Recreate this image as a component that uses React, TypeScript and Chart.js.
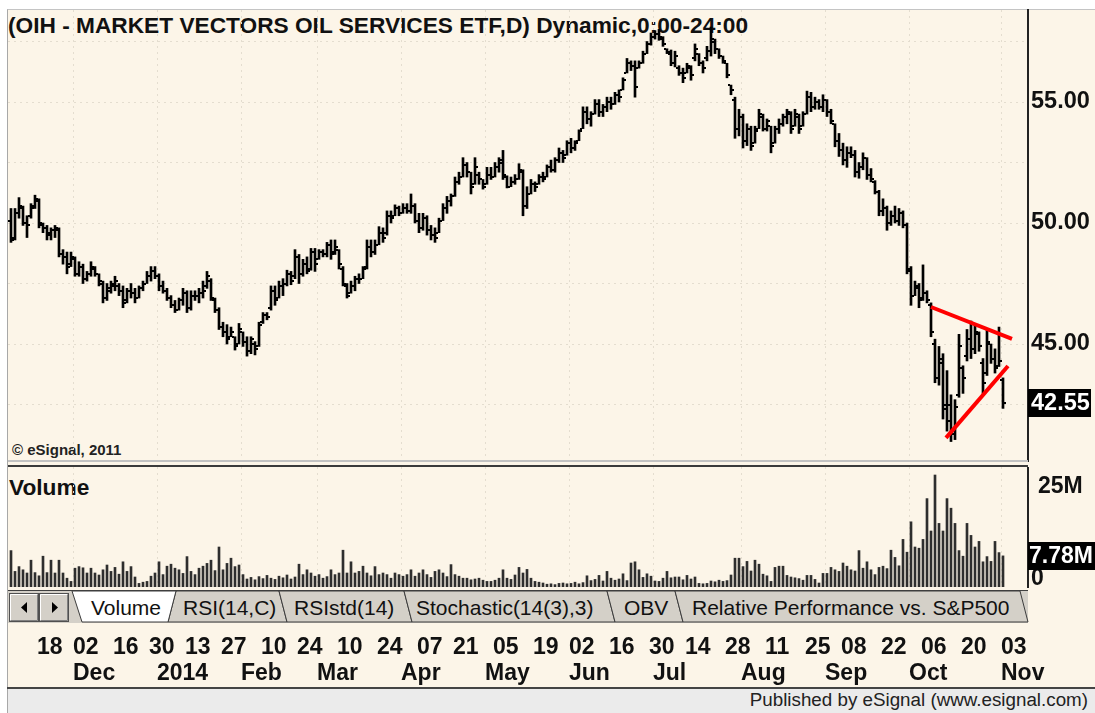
import React, { useEffect, useRef } from 'react';
import { Chart, registerables } from 'chart.js';

Chart.register(...registerables);

const FONT = "'Liberation Sans', Arial, Helvetica, sans-serif";
const CREAM = '#FCF5E8';
const GRID = '#e4ddcf';

// Daily bars, index 0 = 07 Nov 2013 ... index 248 = 03 Nov 2014
const opens = [
  50.1, 49.4, 50.4, 50.6, 50.0, 50.3, 50.7, 50.9, 49.9, 49.8,
  49.5, 49.7, 49.7, 48.7, 48.6, 48.3, 48.5, 47.9, 48.2, 47.7,
  47.9, 48.1, 47.9, 47.5, 46.9, 47.2, 47.4, 47.4, 47.2, 46.8,
  47.2, 47.1, 46.9, 47.3, 47.5, 47.8, 48.0, 47.8, 47.4, 47.2,
  46.9, 46.6, 46.4, 46.8, 47.1, 46.5, 47.0, 47.0, 47.1, 47.4,
  47.6, 46.8, 46.4, 45.7, 45.5, 45.3, 45.3, 45.0, 45.5, 45.1,
  44.7, 45.0, 44.9, 45.9, 46.2, 46.5, 47.2, 46.9, 47.4, 47.5,
  47.9, 47.8, 48.6, 47.9, 48.3, 48.1, 48.8, 48.5, 48.8, 48.7,
  49.1, 48.8, 48.9, 48.1, 47.4, 47.1, 47.4, 47.7, 47.7, 48.2,
  49.0, 48.8, 49.1, 49.6, 49.6, 50.3, 50.3, 50.6, 50.4, 50.6,
  50.5, 50.7, 50.1, 49.8, 50.2, 49.7, 49.5, 49.6, 50.1, 50.6,
  50.9, 51.1, 51.7, 51.9, 52.4, 52.1, 51.6, 52.0, 51.8, 51.6,
  52.0, 51.9, 52.3, 52.6, 51.9, 51.5, 51.7, 51.8, 52.1, 50.7,
  51.2, 51.6, 51.6, 51.9, 51.9, 52.3, 52.2, 52.6, 52.9, 52.8,
  53.3, 53.1, 53.4, 53.9, 54.6, 54.3, 54.5, 54.9, 54.6, 54.8,
  55.0, 54.9, 55.3, 55.5, 56.2, 56.6, 56.5, 56.4, 56.6, 57.0,
  57.4, 57.7, 57.8, 57.6, 57.2, 57.0, 56.6, 56.4, 56.2, 56.2,
  56.4, 56.8, 57.0, 56.6, 56.8, 57.1, 57.5, 57.2, 56.9, 56.6,
  55.7, 55.1, 53.9, 54.4, 53.4, 53.9, 53.3, 53.9, 54.4, 53.9,
  54.0, 53.3, 53.9, 54.1, 54.4, 54.5, 54.0, 54.4, 54.0, 54.5,
  55.2, 54.8, 55.0, 54.8, 55.1, 54.6, 54.1, 53.4, 53.0, 52.6,
  52.9, 52.8, 52.1, 52.3, 52.7, 52.0, 51.7, 51.3, 50.5, 50.6,
  50.0, 50.3, 50.1, 50.4, 49.9, 48.0, 47.0, 47.3, 46.9, 47.1,
  46.6, 45.0, 43.6, 44.2, 42.5, 42.5, 41.3, 42.9, 44.0, 44.5,
  45.2, 44.8, 45.4, 44.2, 43.8, 45.0, 44.4, 44.1, 43.5,
];

const highs = [
  50.6, 50.6, 51.05, 50.7, 50.3, 50.8, 51.15, 51.0, 50.0, 49.9,
  49.8, 49.9, 49.8, 48.9, 48.8, 48.8, 48.6, 48.4, 48.3, 48.0,
  48.4, 48.2, 47.9, 47.6, 47.5, 47.6, 47.8, 47.5, 47.4, 47.3,
  47.5, 47.3, 47.4, 47.6, 48.0, 48.2, 48.2, 47.9, 47.6, 47.3,
  47.0, 46.8, 46.9, 47.3, 47.2, 47.2, 47.2, 47.3, 47.6, 48.0,
  47.7, 46.9, 46.5, 45.9, 45.8, 45.7, 45.3, 45.85, 45.5, 45.3,
  45.3, 45.1, 45.9, 46.3, 46.3, 47.4, 47.4, 47.6, 47.7, 48.05,
  48.0, 48.9, 48.7, 48.5, 48.6, 48.95, 48.95, 48.9, 48.9, 49.2,
  49.3, 49.3, 48.9, 48.2, 47.5, 47.6, 47.8, 47.9, 48.2, 49.3,
  49.3, 49.3, 49.85, 49.8, 50.5, 50.5, 50.75, 50.7, 50.8, 50.8,
  51.2, 50.8, 50.4, 50.4, 50.3, 49.9, 49.8, 50.2, 50.8, 51.1,
  51.2, 51.9, 52.1, 52.7, 52.5, 52.1, 52.7, 52.1, 51.8, 52.3,
  52.3, 52.5, 52.7, 53.0, 51.95, 51.9, 52.0, 52.45, 52.2, 51.5,
  51.8, 51.7, 52.0, 52.1, 52.4, 52.6, 52.7, 53.1, 53.0, 53.4,
  53.5, 53.4, 53.85, 54.8, 54.8, 54.6, 55.1, 55.1, 54.9, 55.2,
  55.2, 55.4, 55.5, 56.0, 56.8, 56.7, 56.7, 56.7, 57.1, 57.5,
  57.85, 57.95, 58.0, 57.7, 57.2, 57.15, 57.1, 56.5, 56.4, 56.6,
  56.5, 57.4, 57.0, 56.7, 57.3, 58.1, 57.6, 57.2, 56.9, 56.6,
  55.7, 55.2, 54.7, 54.5, 54.1, 54.0, 54.0, 54.7, 54.5, 54.3,
  54.0, 54.0, 54.3, 54.5, 54.7, 54.6, 54.7, 54.5, 54.6, 55.45,
  55.4, 55.2, 55.1, 55.3, 55.1, 54.7, 54.1, 53.7, 53.3, 53.15,
  53.15, 53.0, 52.5, 52.9, 52.7, 52.25, 51.75, 51.35, 51.0, 50.7,
  50.5, 50.7, 50.6, 50.5, 50.0, 48.2, 47.6, 47.5, 48.27, 47.2,
  46.7, 45.2, 44.9, 44.6, 43.9, 42.9, 42.7, 45.4, 44.1, 45.6,
  45.95, 45.8, 45.5, 44.4, 45.6, 45.0, 44.8, 45.7, 43.6,
];

const lows = [
  49.2, 49.3, 50.2, 49.9, 49.4, 50.2, 50.6, 49.8, 49.6, 49.3,
  49.3, 49.4, 48.6, 48.3, 47.9, 48.2, 47.8, 47.8, 47.5, 47.6,
  47.8, 47.8, 47.4, 46.7, 46.8, 47.1, 47.2, 47.0, 46.5, 46.7,
  46.9, 46.7, 46.9, 47.2, 47.5, 47.6, 47.7, 47.2, 47.1, 46.8,
  46.5, 46.3, 46.4, 46.6, 46.3, 46.4, 46.8, 46.7, 46.9, 47.3,
  46.8, 46.3, 45.6, 45.3, 45.0, 45.3, 44.75, 45.0, 44.9, 44.5,
  44.6, 44.55, 44.9, 45.85, 46.0, 46.4, 46.6, 46.9, 47.0, 47.4,
  47.45, 47.7, 47.5, 47.8, 47.9, 48.05, 48.0, 48.5, 48.6, 48.6,
  48.5, 48.7, 48.1, 47.4, 46.9, 47.1, 47.2, 47.5, 47.7, 48.1,
  48.6, 48.7, 49.1, 49.2, 49.5, 50.0, 50.3, 50.3, 50.4, 50.4,
  50.4, 50.0, 49.6, 49.7, 49.5, 49.3, 49.2, 49.6, 50.1, 50.4,
  50.7, 51.1, 51.6, 51.9, 51.9, 51.2, 51.6, 51.6, 51.4, 51.6,
  51.8, 51.9, 52.1, 51.8, 51.45, 51.5, 51.6, 51.8, 50.3, 50.6,
  51.2, 51.3, 51.6, 51.7, 51.9, 52.1, 52.1, 52.5, 52.5, 52.8,
  52.9, 53.0, 53.4, 53.9, 54.1, 54.0, 54.5, 54.4, 54.4, 54.6,
  54.7, 54.9, 55.0, 55.5, 56.2, 56.3, 55.2, 56.4, 56.6, 57.0,
  57.35, 57.6, 57.55, 57.3, 57.0, 56.5, 56.45, 56.1, 55.8, 56.2,
  55.9, 56.7, 56.5, 56.2, 56.7, 56.9, 57.0, 56.8, 56.6, 56.0,
  55.3, 53.5, 53.6, 53.1, 53.2, 53.0, 53.3, 53.9, 53.8, 53.8,
  52.9, 53.3, 53.7, 54.0, 54.1, 53.7, 54.0, 53.7, 54.0, 54.5,
  54.6, 54.7, 54.7, 54.6, 54.4, 54.1, 53.15, 52.75, 52.4, 52.3,
  52.7, 51.9, 51.85, 52.2, 51.8, 51.7, 51.2, 50.3, 50.3, 49.7,
  49.9, 50.0, 49.9, 49.8, 47.9, 46.6, 47.0, 46.5, 46.8, 46.7,
  45.3, 43.4, 43.3, 41.9, 41.4, 40.97, 41.05, 42.8, 42.96, 44.3,
  44.4, 44.6, 44.7, 42.96, 43.7, 44.2, 43.8, 44.07, 42.34,
];

const closes = [
  49.3, 50.4, 50.7, 50.0, 49.9, 50.6, 51.0, 50.0, 49.8, 49.6,
  49.7, 49.8, 48.7, 48.6, 48.2, 48.6, 47.9, 48.2, 47.7, 47.9,
  48.2, 47.9, 47.6, 46.9, 47.3, 47.5, 47.6, 47.2, 46.7, 47.2,
  47.1, 46.9, 47.3, 47.5, 47.8, 48.0, 47.8, 47.4, 47.2, 46.9,
  46.6, 46.4, 46.8, 47.1, 46.5, 47.0, 47.0, 47.1, 47.2, 47.8,
  46.9, 46.4, 45.7, 45.5, 45.2, 45.5, 44.9, 45.6, 45.1, 44.7,
  45.2, 44.8, 45.8, 46.2, 46.1, 47.2, 46.8, 47.4, 47.5, 47.9,
  47.6, 48.6, 47.9, 48.3, 48.0, 48.8, 48.3, 48.8, 48.7, 49.1,
  48.7, 49.0, 48.3, 47.5, 47.0, 47.4, 47.7, 47.7, 48.1, 49.0,
  48.8, 49.1, 49.6, 49.4, 50.3, 50.2, 50.6, 50.4, 50.6, 50.5,
  50.7, 50.1, 49.8, 50.2, 49.7, 49.5, 49.4, 50.1, 50.6, 50.9,
  51.1, 51.7, 51.9, 52.4, 52.1, 51.5, 52.3, 51.8, 51.5, 52.0,
  51.9, 52.3, 52.5, 52.0, 51.5, 51.7, 51.8, 52.2, 50.7, 51.2,
  51.6, 51.5, 51.9, 51.8, 52.3, 52.2, 52.6, 52.9, 52.7, 53.3,
  53.1, 53.3, 53.8, 54.6, 54.3, 54.5, 54.9, 54.6, 54.8, 55.0,
  54.9, 55.3, 55.2, 55.9, 56.6, 56.5, 55.6, 56.6, 57.0, 57.4,
  57.7, 57.8, 57.7, 57.4, 57.05, 56.6, 56.9, 56.2, 56.0, 56.5,
  56.1, 57.2, 56.6, 56.4, 57.1, 57.6, 57.2, 56.9, 56.7, 56.1,
  55.5, 53.9, 54.4, 53.4, 53.9, 53.2, 53.8, 54.5, 53.9, 54.2,
  53.2, 53.9, 54.1, 54.4, 54.6, 53.9, 54.5, 53.9, 54.5, 55.2,
  54.8, 55.0, 54.8, 55.1, 54.6, 54.2, 53.4, 53.0, 52.6, 52.9,
  52.8, 52.1, 52.3, 52.7, 52.0, 51.8, 51.3, 50.5, 50.6, 50.0,
  50.3, 50.1, 50.4, 49.9, 48.1, 47.0, 47.4, 46.8, 47.1, 46.8,
  45.5, 43.6, 44.4, 42.3, 41.8, 41.5, 42.4, 44.9, 43.6, 45.2,
  44.8, 45.5, 44.9, 43.4, 45.1, 44.4, 44.0, 44.3, 42.55,
];

// Volume in millions of shares
const volumes = [
  9.1, 3.9, 5.1, 4.3, 3.5, 6.7, 3.6, 2.8, 7.7, 3.6,
  6.7, 3.5, 6.7, 3.5, 2.2, 1.4, 4.7, 5.1, 4.8, 3.5,
  4.7, 3.5, 3.0, 4.3, 5.5, 3.9, 4.9, 3.2, 6.3, 3.9,
  5.1, 2.5, 0.9, 1.2, 1.4, 2.7, 3.5, 6.3, 3.1, 5.2,
  5.7, 4.7, 4.3, 3.4, 7.6, 3.9, 3.1, 4.7, 5.2, 5.9,
  6.7, 4.1, 10.0, 4.3, 5.9, 7.2, 5.1, 5.5, 3.1, 2.0,
  2.4, 1.8, 2.6, 2.1, 2.9, 2.2, 1.9, 2.7, 2.3, 3.0,
  2.0, 2.5, 5.7, 3.1, 4.3, 3.5, 2.7, 3.1, 2.2, 2.6,
  4.3, 3.1, 3.5, 9.2, 3.5, 6.3, 3.5, 3.9, 5.2, 3.5,
  2.8, 5.1, 3.1, 3.5, 3.1, 2.2, 3.5, 3.1, 2.7, 3.1,
  4.3, 2.7, 3.5, 4.3, 3.1, 2.4, 3.9, 4.3, 3.5, 2.6,
  5.6, 3.1, 2.7, 2.2, 2.2, 1.8, 2.0, 2.2, 1.7, 1.4,
  1.4, 1.7, 2.2, 4.3, 2.2, 1.9, 3.0, 4.9, 3.5, 4.4,
  2.2, 1.4, 1.2, 1.0, 0.7, 0.8, 0.6, 0.9, 1.0, 0.8,
  0.9, 1.2, 0.8, 1.1, 2.8, 1.6, 1.9, 2.9, 1.5, 3.9,
  2.2, 1.7, 2.0, 3.3, 1.6, 6.0, 6.3, 4.3, 2.4, 3.3,
  2.7, 1.5, 1.4, 2.2, 3.9, 2.3, 2.5, 2.5, 1.8, 2.9,
  2.0, 2.5, 0.9, 0.8, 0.9, 1.5, 1.3, 1.7, 1.4, 1.6,
  3.0, 7.2, 7.2, 5.1, 6.4, 4.0, 6.7, 5.7, 3.2, 2.8,
  1.4, 4.9, 5.2, 5.2, 2.9, 2.5, 2.3, 2.1, 1.7, 2.9,
  2.9, 1.9, 1.0, 3.4, 3.4, 4.9, 4.3, 3.9, 6.0, 5.2,
  4.3, 4.0, 9.1, 4.7, 6.3, 4.3, 3.1, 4.9, 5.2, 4.6,
  9.2, 7.4, 5.3, 11.9, 8.7, 16.3, 10.0, 9.7, 11.9, 22.1,
  14.0, 28.0, 15.9, 14.0, 22.1, 19.7, 15.9, 9.1, 7.7, 15.9,
  12.9, 10.0, 11.4, 6.3, 7.6, 6.4, 11.4, 8.6, 7.78,
];

// Date axis (bar indices of the labelled sessions)
const dayTickIdx = [7, 16, 26, 35, 44, 53, 63, 72, 82, 92, 102, 111, 121, 131, 140, 150, 160, 169, 179, 189, 199, 208, 218, 228, 238, 248];
const dayTickLabels = ['18', '02', '16', '30', '13', '27', '10', '24', '10', '24', '07', '21', '05', '19', '02', '16', '30', '14', '28', '11', '25', '08', '22', '06', '20', '03'];
const monthIdx = [16, 37, 58, 77, 98, 119, 140, 161, 183, 204, 225, 248];
const monthLabels = ['Dec', '2014', 'Feb', 'Mar', 'Apr', 'May', 'Jun', 'Jul', 'Aug', 'Sep', 'Oct', 'Nov'];

const priceGridValues = [42.5, 45, 47.5, 50, 52.5, 55, 57.5];
const volumeTickValues = [25];

// Hand-drawn triangle trend lines (bar index, price)
const upperTrend = [{ x: 230, y: 46.53 }, { x: 250.25, y: 45.21 }];
const lowerTrend = [{ x: 233.75, y: 41.12 }, { x: 249.25, y: 44.09 }];

const tabLabels = ['Volume', 'RSI(14,C)', 'RSIstd(14)', 'Stochastic(14(3),3)', 'OBV', 'Relative Performance vs. S&P500'];

const X_MIN = -0.75;
const X_MAX = 254.25;
const PRICE_MAX = 58.802;
const PRICE_MIN = 40.166;
const VOL_MAX = 30;

function monthGridAxis(): any {
  return {
    type: 'linear',
    min: X_MIN,
    max: X_MAX,
    bounds: 'data',
    offset: false,
    grid: { display: true, color: GRID, lineWidth: 1, drawTicks: false, offset: false },
    border: { display: false, dash: [2, 4] },
    ticks: { display: false },
    afterBuildTicks: (s: any) => {
      s.ticks = monthIdx.map((v) => ({ value: v - 0.5 }));
    },
    afterFit: (s: any) => {
      s.height = 0;
      s.paddingLeft = 0;
      s.paddingRight = 0;
    },
  };
}

const ohlcTicksPlugin = {
  id: 'ohlcTicks',
  afterDatasetDraw(chart: any, args: any) {
    if (args.meta.type !== 'bar') return;
    const { ctx } = chart;
    const xs = chart.scales.x;
    const ys = chart.scales.y;
    ctx.save();
    ctx.fillStyle = '#000';
    for (let i = 0; i < opens.length; i++) {
      const px = Math.round(xs.getPixelForValue(i));
      const yo = Math.round(ys.getPixelForValue(opens[i]));
      const yc = Math.round(ys.getPixelForValue(closes[i]));
      ctx.fillRect(px - 3, yo - 1, 2, 2);
      ctx.fillRect(px + 1, yc - 1, 2, 2);
    }
    ctx.restore();
  },
};

const lastPricePlugin = {
  id: 'lastPrice',
  afterDraw(chart: any) {
    const { ctx } = chart;
    const ys = chart.scales.y;
    const last = closes[closes.length - 1];
    const y = Math.round(ys.getPixelForValue(last));
    ctx.save();
    ctx.fillStyle = '#000';
    ctx.fillRect(1028, y - 14, 63, 28);
    ctx.fillStyle = '#fff';
    ctx.font = `bold 23.5px ${FONT}`;
    ctx.textAlign = 'left';
    ctx.textBaseline = 'middle';
    ctx.fillText(last.toFixed(2), 1031, y + 1);
    ctx.restore();
  },
};

const volumeLabelPlugin = {
  id: 'volumeLabels',
  afterDraw(chart: any) {
    const { ctx } = chart;
    const ys = chart.scales.y;
    const last = volumes[volumes.length - 1];
    const y = Math.round(ys.getPixelForValue(last));
    const y0 = ys.getPixelForValue(0);
    ctx.save();
    ctx.font = `bold 23px ${FONT}`;
    ctx.fillStyle = '#111';
    ctx.textAlign = 'left';
    ctx.textBaseline = 'alphabetic';
    ctx.fillText('0', 1031, y0 - 2);
    ctx.fillStyle = '#000';
    ctx.fillRect(1028, y - 14, 67, 28);
    ctx.fillStyle = '#fff';
    ctx.textBaseline = 'middle';
    ctx.fillText(`${last.toFixed(2)}M`, 1029, y + 1);
    ctx.restore();
  },
};

const dateAxisPlugin = {
  id: 'dateAxis',
  afterDraw(chart: any) {
    const { ctx } = chart;
    const xs = chart.scales.x;
    ctx.save();
    ctx.font = `bold 23px ${FONT}`;
    ctx.fillStyle = '#111';
    ctx.textAlign = 'left';
    ctx.textBaseline = 'alphabetic';
    dayTickIdx.forEach((idx, k) => {
      ctx.fillText(dayTickLabels[k], Math.round(xs.getPixelForValue(idx)) - 2, 31);
    });
    monthIdx.forEach((idx, k) => {
      ctx.fillText(monthLabels[k], Math.round(xs.getPixelForValue(idx)) - 2, 57);
    });
    ctx.restore();
  },
};

export default function App() {
  const priceRef = useRef<HTMLCanvasElement>(null);
  const volRef = useRef<HTMLCanvasElement>(null);
  const dateRef = useRef<HTMLCanvasElement>(null);

  useEffect(() => {
    const charts: any[] = [];
    const ranges = highs.map((h, i) => ({ x: i, y: [lows[i], h] }));
    const volPoints = volumes.map((v, i) => ({ x: i, y: v }));

    if (priceRef.current) {
      charts.push(
        new Chart(priceRef.current, {
          type: 'bar',
          data: {
            datasets: [
              {
                type: 'line',
                data: upperTrend,
                borderColor: '#ff0000',
                borderWidth: 4,
                pointRadius: 0,
                fill: false,
                order: 0,
              } as any,
              {
                type: 'line',
                data: lowerTrend,
                borderColor: '#ff0000',
                borderWidth: 4,
                pointRadius: 0,
                fill: false,
                order: 0,
              } as any,
              {
                type: 'bar',
                data: ranges as any,
                backgroundColor: '#000',
                borderWidth: 0,
                barThickness: 2,
                order: 1,
              } as any,
            ],
          },
          options: {
            animation: false,
            responsive: false,
            events: [],
            layout: { padding: { left: 8, top: 10, right: 0, bottom: 1 } },
            plugins: { legend: { display: false }, tooltip: { enabled: false }, title: { display: false } },
            scales: {
              x: monthGridAxis(),
              y: {
                type: 'linear',
                position: 'right',
                min: PRICE_MIN,
                max: PRICE_MAX,
                bounds: 'data',
                afterBuildTicks: (s: any) => {
                  s.ticks = priceGridValues.map((v) => ({ value: v }));
                },
                ticks: {
                  autoSkip: false,
                  padding: 3,
                  color: '#111',
                  font: { family: FONT, size: 23.5, weight: 'bold' },
                  callback: (v: any) => (Number(v) % 5 === 0 ? Number(v).toFixed(2) : ''),
                },
                grid: { color: GRID, lineWidth: 1, drawTicks: false },
                border: { display: true, color: '#222', width: 2, dash: [2, 4] },
                afterFit: (s: any) => {
                  s.width = 67;
                  s.paddingTop = 0;
                  s.paddingBottom = 0;
                },
              } as any,
            },
          } as any,
          plugins: [ohlcTicksPlugin, lastPricePlugin],
        })
      );
    }

    if (volRef.current) {
      charts.push(
        new Chart(volRef.current, {
          type: 'bar',
          data: {
            datasets: [
              {
                data: volPoints as any,
                backgroundColor: '#2e2e2e',
                borderWidth: 0,
                barThickness: 2,
              } as any,
            ],
          },
          options: {
            animation: false,
            responsive: false,
            events: [],
            layout: { padding: { left: 8, top: 0, right: 0, bottom: 1 } },
            plugins: { legend: { display: false }, tooltip: { enabled: false } },
            scales: {
              x: monthGridAxis(),
              y: {
                type: 'linear',
                position: 'right',
                min: 0,
                max: VOL_MAX,
                bounds: 'data',
                afterBuildTicks: (s: any) => {
                  s.ticks = volumeTickValues.map((v) => ({ value: v }));
                },
                ticks: {
                  autoSkip: false,
                  padding: 2,
                  color: '#111',
                  font: { family: FONT, size: 23, weight: 'bold' },
                  callback: (v: any) => `${v}M`,
                },
                grid: { display: false },
                border: { display: true, color: '#222', width: 2 },
                afterFit: (s: any) => {
                  s.width = 67;
                  s.paddingTop = 0;
                  s.paddingBottom = 0;
                },
              } as any,
            },
          } as any,
          plugins: [volumeLabelPlugin],
        })
      );
    }

    if (dateRef.current) {
      charts.push(
        new Chart(dateRef.current, {
          type: 'line',
          data: { datasets: [] },
          options: {
            animation: false,
            responsive: false,
            events: [],
            layout: { padding: { left: 8, top: 0, right: 67, bottom: 0 } },
            plugins: { legend: { display: false }, tooltip: { enabled: false } },
            scales: {
              x: { type: 'linear', display: false, min: X_MIN, max: X_MAX, bounds: 'data' },
              y: { display: false, min: 0, max: 1 },
            },
          } as any,
          plugins: [dateAxisPlugin],
        })
      );
    }

    return () => {
      charts.forEach((c) => c.destroy());
    };
  }, []);

  // tab strip geometry (top x of each boundary)
  const edges = [72, 176, 279, 404, 607, 675, 1020];
  const textX = [91, 183, 294, 416, 624, 692];

  const abs = (o: React.CSSProperties): React.CSSProperties => ({ position: 'absolute', ...o });

  return (
    <div style={abs({ left: 0, top: 0, width: 1095, height: 713, background: '#fff', overflow: 'hidden', fontFamily: FONT })}>
      <div style={abs({ left: 7, top: 9, width: 1088, height: 680, background: CREAM, borderLeft: '1px solid #a8a8a8', borderTop: '1px solid #c4c4c4', boxSizing: 'border-box' })} />
      <div style={abs({ left: 8, top: 12, fontSize: 22.7, lineHeight: '26px', fontWeight: 'bold', color: '#111', whiteSpace: 'nowrap' })}>
        (OIH - MARKET VECTORS OIL SERVICES ETF,D) Dynamic,0:00-24:00
      </div>
      <div style={abs({ left: 12, top: 441, fontSize: 15, lineHeight: '17px', fontWeight: 'bold', color: '#222', whiteSpace: 'nowrap' })}>
        © eSignal, 2011
      </div>
      <div style={abs({ left: 9, top: 474, fontSize: 22.7, lineHeight: '26px', fontWeight: 'bold', color: '#111' })}>Volume</div>

      <canvas ref={priceRef} width={1095} height={462} style={abs({ left: 0, top: 0, width: 1095, height: 462 })} />

      <div style={abs({ left: 8, top: 460, width: 1020, height: 2, background: '#c2c2c2' })} />
      <div style={abs({ left: 8, top: 465, width: 1020, height: 2, background: '#3a3a3a' })} />

      <canvas ref={volRef} width={1095} height={121} style={abs({ left: 0, top: 467, width: 1095, height: 121 })} />

      <svg width={1095} height={34} style={abs({ left: 0, top: 590 })}>
        <rect x={8} y={0} width={1020} height={33} fill="#D4D0C8" />
        <line x1={8} y1={0.5} x2={1028} y2={0.5} stroke="#404040" />
        <rect x={9.5} y={3.5} width={29} height={28} fill="#D4D0C8" stroke="#505050" />
        <path d="M10.5 30.5 V4.5 H37.5" stroke="#ffffff" fill="none" />
        <path d="M10.5 30.5 H37.5 V4.5" stroke="#808080" fill="none" />
        <polygon points="21,17.5 27,12 27,23" fill="#000" />
        <rect x={39.5} y={3.5} width={29} height={28} fill="#D4D0C8" stroke="#505050" />
        <path d="M40.5 30.5 V4.5 H67.5" stroke="#ffffff" fill="none" />
        <path d="M40.5 30.5 H67.5 V4.5" stroke="#808080" fill="none" />
        <polygon points="52,12 52,23 58,17.5" fill="#000" />
        {tabLabels.slice(1).map((lab, j) => {
          const k = j + 1;
          const l = edges[k];
          const r = edges[k + 1];
          const lb = k === 1 ? l - 8 : l + 8;
          return (
            <g key={lab}>
              <polygon points={`${l},1 ${r},1 ${r + 8},32 ${lb},32`} fill="#D4D0C8" stroke="#3c3c3c" strokeWidth={1} />
              <text x={textX[k]} y={25} fontSize={21} fontFamily={FONT} fill="#111">{lab}</text>
            </g>
          );
        })}
        <polygon points={`${edges[0]},1 ${edges[1]},1 ${edges[1] - 8},32 ${edges[0] + 10},32`} fill="#ffffff" stroke="#3c3c3c" strokeWidth={1} />
        <text x={textX[0]} y={25} fontSize={21} fontFamily={FONT} fill="#111">{tabLabels[0]}</text>
      </svg>

      <canvas ref={dateRef} width={1095} height={65} style={abs({ left: 0, top: 623, width: 1095, height: 65 })} />

      <div style={abs({ left: 7, top: 687, width: 1088, height: 2, background: '#444' })} />
      <div style={abs({ left: 7, top: 689, width: 1088, height: 24, background: '#EBEBEB', borderLeft: '1px solid #a8a8a8', boxSizing: 'border-box' })} />
      <div style={abs({ right: 7, top: 689, fontSize: 18.8, lineHeight: '22px', color: '#222', whiteSpace: 'nowrap' })}>
        Published by eSignal (www.esignal.com)
      </div>
    </div>
  );
}
